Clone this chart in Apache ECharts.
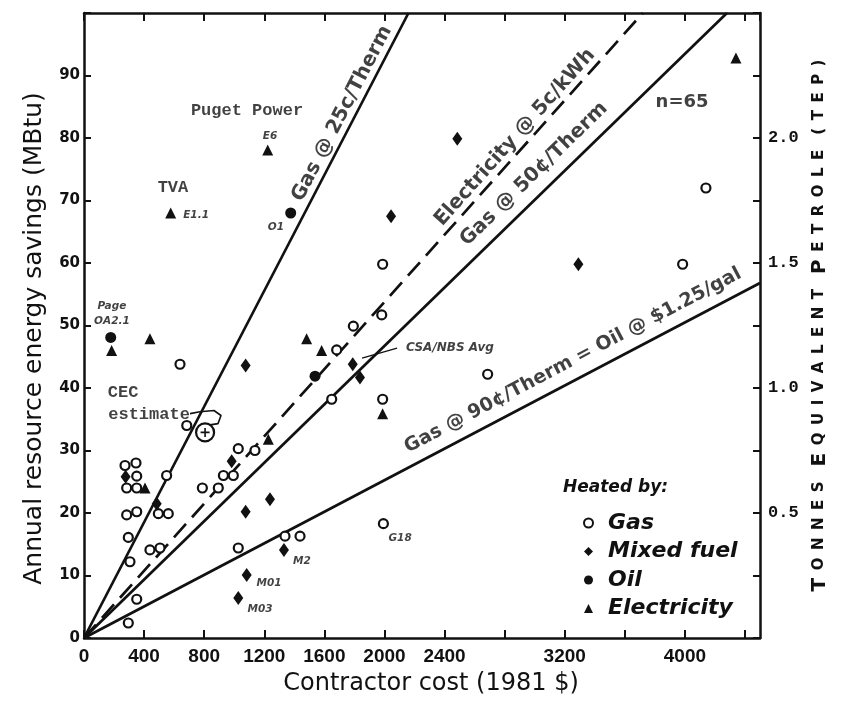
<!DOCTYPE html>
<html>
<head>
<meta charset="utf-8">
<script src="https://cdn.jsdelivr.net/npm/echarts@6/dist/echarts.min.js"></script>
<style>
  html, body { margin: 0; background: #fff; }
  #chart { width: 841px; height: 701px; }
</style>
</head>
<body>
<div id="chart"></div>
<script>
// savings vs. contractor cost, n=65 retrofits
const xTickLabels = ['0', '400', '800', '1200', '1600', '2000', '2400', '3200', '4000'];
const tepTickLabels = ['0.5', '1.0', '1.5', '2.0'];

// [cost $, MBtu/yr]
const gasPts = [
  [639, 43.8], [1793, 49.9], [1682, 46.1], [1982, 51.7], [1649, 38.2], [1988, 38.2],
  [1993, 18.3], [684, 34.0], [550, 26.0], [1027, 30.3], [1138, 30.0], [928, 26.0],
  [994, 26.0], [894, 24.0], [788, 24.0], [273, 27.6], [346, 28.0], [351, 25.9],
  [284, 24.0], [351, 24.0], [284, 19.7], [351, 20.2], [495, 19.9], [561, 19.9],
  [295, 16.1], [439, 14.1], [506, 14.4], [306, 12.2], [351, 6.2], [295, 2.4],
  [1027, 14.4], [1338, 16.3], [1438, 16.3], [1988, 59.8], [4140, 72.0], [3985, 59.8],
  [2687, 42.2]
];
const mixedPts = [
  [1076, 43.6], [1789, 43.8], [1837, 41.7], [983, 28.3], [277, 25.8], [484, 21.5],
  [1076, 20.2], [1238, 22.2], [1331, 14.1], [1083, 10.1], [1027, 6.4], [2044, 67.5],
  [2485, 79.9], [3291, 59.8]
];
const oilPts = [[178, 48.1], [1538, 41.9], [1376, 68.0]];
const elecPts = [
  [184, 46.0], [439, 47.9], [1482, 47.9], [1582, 46.0], [1988, 35.9], [1227, 31.8],
  [406, 24.0], [1223, 78.1], [577, 68.0], [4340, 92.8]
];
const cecPts = [[806, 32.9]];
const cecOutline = [[706, 35.9], [772, 36.2], [865, 36.4], [912, 35.6], [892, 34.3], [839, 34.1]];

// constant cost-of-conserved-energy lines, drawn from the origin to these ends
const lineNames = ['Gas @ 25c/Therm', 'Electricity @ 5c/kWh', 'Gas @ 50¢/Therm', 'Gas @ 90¢/Therm = Oil @ $1.25/gal'];
const lineEnds = [[2160, 100], [3720, 100], [4280, 100], [4500, 56.8]];
const lineLabelAt = [[1718, 83.9], [2869, 80.1], [2996, 74.2], [3255, 44.4]];

// text notes (anchor in data units)
const noteText = ['Puget Power', 'E6', 'TVA', 'E1.1', 'O1', 'Page', 'OA2.1', 'CEC', 'estimate',
  'CSA/NBS Avg', 'M2', 'M01', 'M03', 'G18', 'n=65'];
const noteAt = [[1085, 84.3], [1238, 80.3], [592, 72.0], [746, 67.7], [1278, 65.7], [186, 53.1],
  [186, 50.6], [260, 39.3], [433, 35.8], [2436, 46.4], [1451, 12.2], [1232, 8.7], [1172, 4.6],
  [2104, 15.9], [3981, 85.7]];
const noteKind = ['type', 'tiny', 'type', 'tiny', 'tiny', 'tiny', 'tiny', 'type', 'type',
  'small', 'tiny', 'tiny', 'tiny', 'tiny', 'big'];
const csaLeader = [[1851, 44.8], [2084, 46.4]];

const INK = '#111';
const noteStyle = {
  type: { fontFamily: 'Liberation Mono', fontWeight: 'bold', fontSize: 17 },
  tiny: { fontFamily: 'DejaVu Sans', fontWeight: 'bold', fontStyle: 'italic', fontSize: 10.5 },
  small: { fontFamily: 'DejaVu Sans', fontWeight: 'bold', fontStyle: 'italic', fontSize: 12 },
  big: { fontFamily: 'DejaVu Sans', fontWeight: 'bold', fontSize: 18 },
};

// letter-spaced small caps for the TEP axis title
const SP = '\u2002';
const spaced = s => s.split('').join(SP);
const tepTitle = [['T', 'ONNES'], ['E', 'QUIVALENT'], ['P', 'ETROLE'], ['', '(TEP)']]
  .map(([cap, rest]) => (cap ? `{b|${cap}}{s|${SP}${spaced(rest)}}` : `{s|${spaced(rest)}}`))
  .join(`{s|${SP}${SP}}`);

const chart = echarts.init(document.getElementById('chart'));

const axisLine = { show: true, onZero: false, lineStyle: { color: INK, width: 2.5 } };
const tick = (len) => ({ show: true, inside: true, length: len, lineStyle: { color: INK, width: 2 } });

chart.setOption({
  animation: false,
  backgroundColor: '#fff',
  grid: { left: 84, top: 13, right: 81, bottom: 59 },
  xAxis: [
    {
      type: 'value', min: 0, max: 4500, interval: 400, position: 'bottom',
      axisLine, axisTick: tick(8), splitLine: { show: false },
      axisLabel: {
        margin: 9, color: INK, fontFamily: 'Liberation Sans', fontWeight: 'bold', fontSize: 19,
        showMaxLabel: false,
        formatter: v => (xTickLabels.includes(String(v)) ? String(v) : ''),
      },
      name: 'Contractor cost (1981 $)', nameLocation: 'middle', nameGap: 34,
      nameTextStyle: { color: INK, fontFamily: 'DejaVu Sans', fontSize: 24, padding: [0, 0, 0, 18] },
    },
    {
      type: 'value', min: 0, max: 4500, interval: 400, position: 'top',
      axisLine, axisTick: tick(8), axisLabel: { show: false }, splitLine: { show: false },
    },
  ],
  yAxis: [
    {
      type: 'value', min: 0, max: 100, interval: 10, position: 'left',
      axisLine, axisTick: tick(7), splitLine: { show: false },
      axisLabel: {
        margin: 4, color: INK, fontFamily: 'DejaVu Sans', fontWeight: 'bold', fontSize: 15,
        formatter: v => (v < 100 ? String(v) : ''),
      },
      name: 'Annual resource energy savings (MBtu)', nameLocation: 'middle', nameGap: 37,
      nameTextStyle: { color: INK, fontFamily: 'DejaVu Sans', fontSize: 25, padding: [0, 26, 0, 0] },
    },
    {
      type: 'value', min: 0, max: 2.5, interval: 0.25, position: 'right',
      axisLine, axisTick: tick(7), splitLine: { show: false },
      axisLabel: {
        margin: 8, color: INK, fontFamily: 'Liberation Mono', fontWeight: 'bold', fontSize: 17,
        formatter: v => {
          const s = v.toFixed(1);
          return tepTickLabels.includes(s) && Math.abs(v * 2 - Math.round(v * 2)) < 1e-6 ? s : '';
        },
      },
      name: tepTitle,
      nameLocation: 'middle', nameGap: 47, nameRotate: 90,
      nameTextStyle: {
        color: INK,
        rich: {
          b: { fontFamily: 'DejaVu Sans', fontWeight: 'bold', fontSize: 20, color: INK },
          s: { fontFamily: 'DejaVu Sans', fontWeight: 'bold', fontSize: 15, color: INK },
        },
      },
    },
  ],
  legend: {
    data: ['Gas', 'Mixed fuel', 'Oil', 'Electricity'],
    orient: 'vertical', left: 578, top: 506, itemGap: 4.5,
    itemWidth: 9, itemHeight: 9,
    textStyle: {
      color: INK, fontFamily: 'DejaVu Sans', fontWeight: 'bold', fontStyle: 'italic',
      fontSize: 22, lineHeight: 24, padding: [0, 0, 0, 10],
    },
  },
  graphic: [
    {
      type: 'text', left: 563, top: 479,
      style: { text: 'Heated by:', fill: INK, font: 'italic bold 17px "DejaVu Sans"' },
    },
  ],
  series: [
    ...lineEnds.map((end, i) => ({
      name: lineNames[i], type: 'line', silent: true, symbol: 'none',
      data: [[0, 0], end],
      lineStyle: { color: INK, width: 2.7, type: i === 1 ? [18, 9] : 'solid' },
      z: 1,
    })),
    {
      name: 'leader', type: 'line', silent: true, symbol: 'none', data: csaLeader,
      lineStyle: { color: INK, width: 1.3 }, z: 1,
    },
    {
      name: 'cec outline', type: 'line', silent: true, symbol: 'none', data: cecOutline,
      lineStyle: { color: INK, width: 1.6 }, z: 2,
    },
    {
      name: 'Gas', type: 'scatter', data: gasPts, symbol: 'circle', symbolSize: 9,
      itemStyle: { color: '#fff', borderColor: INK, borderWidth: 2.2, opacity: 1 }, z: 3,
    },
    {
      name: 'Mixed fuel', type: 'scatter', data: mixedPts, symbol: 'diamond', symbolSize: [10, 14],
      itemStyle: { color: INK, opacity: 1 }, z: 3,
    },
    {
      name: 'Oil', type: 'scatter', data: oilPts, symbol: 'circle', symbolSize: 11,
      itemStyle: { color: INK, opacity: 1 }, z: 3,
    },
    {
      name: 'Electricity', type: 'scatter', data: elecPts, symbol: 'triangle', symbolSize: 11,
      itemStyle: { color: INK, opacity: 1 }, z: 3,
    },
    {
      name: 'CEC estimate', type: 'scatter', data: cecPts, symbol: 'circle', symbolSize: 18,
      itemStyle: { color: '#fff', borderColor: INK, borderWidth: 2.2, opacity: 1 }, z: 4,
    },
    {
      name: 'CEC plus', type: 'scatter', data: cecPts, symbol: 'path://M0,5 L10,5 M5,0 L5,10',
      symbolSize: 9, itemStyle: { color: 'none', borderColor: INK, borderWidth: 1.6, opacity: 1 }, z: 5,
    },
    {
      name: 'notes', type: 'scatter', silent: true, symbolSize: 1,
      itemStyle: { color: 'rgba(0,0,0,0)' }, z: 6,
      data: noteAt.map((p, i) => ({
        value: p,
        label: {
          show: true, position: 'inside', formatter: noteText[i], color: INK,
          ...noteStyle[noteKind[i]],
        },
      })),
    },
  ],
});

// line captions follow the on-screen slope of each line
const o = chart.convertToPixel({ gridIndex: 0 }, [0, 0]);
const captions = lineEnds.map((end, i) => {
  const p = chart.convertToPixel({ gridIndex: 0 }, end);
  const angle = Math.atan2(o[1] - p[1], p[0] - o[0]) * 180 / Math.PI;
  return {
    value: lineLabelAt[i],
    label: {
      show: true, position: 'inside', formatter: lineNames[i], rotate: angle,
      color: INK, fontFamily: 'DejaVu Sans', fontWeight: 'bold', fontSize: i === 3 ? 19 : 20,
    },
  };
});

chart.setOption({
  series: [{
    id: 'captions', name: 'captions', type: 'scatter', silent: true, symbolSize: 1,
    itemStyle: { color: 'rgba(0,0,0,0)' }, z: 6, data: captions,
  }],
});
</script>
</body>
</html>
